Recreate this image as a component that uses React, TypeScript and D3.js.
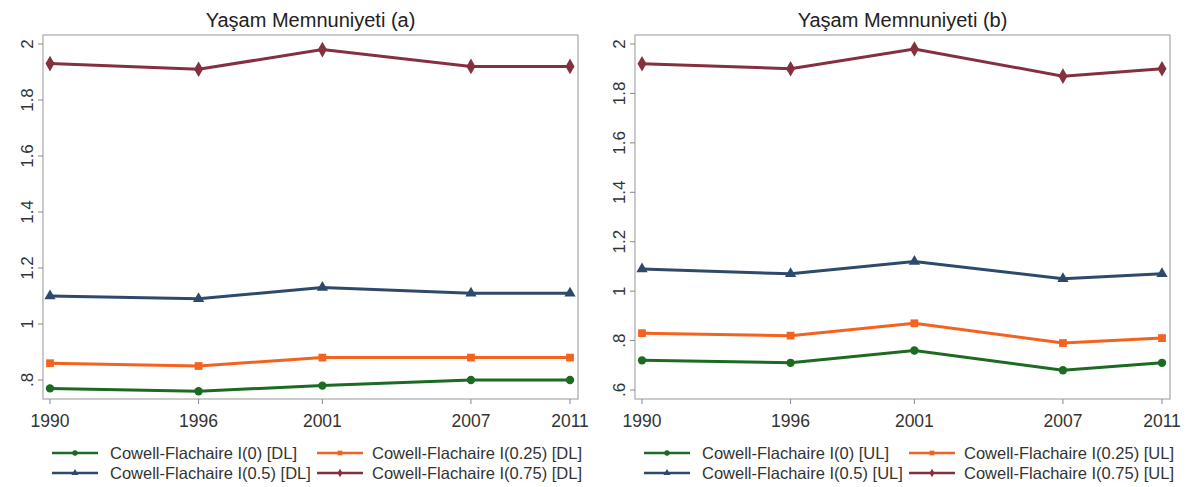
import React from "react";
import * as d3 from "d3";

// years on the x axis
const years = [1990, 1996, 2001, 2007, 2011];

// panel (a): DL series
const dlI0 = [0.77, 0.76, 0.78, 0.8, 0.8];
const dlI025 = [0.86, 0.85, 0.88, 0.88, 0.88];
const dlI05 = [1.1, 1.09, 1.13, 1.11, 1.11];
const dlI075 = [1.93, 1.91, 1.98, 1.92, 1.92];

// panel (b): UL series
const ulI0 = [0.72, 0.71, 0.76, 0.68, 0.71];
const ulI025 = [0.83, 0.82, 0.87, 0.79, 0.81];
const ulI05 = [1.09, 1.07, 1.12, 1.05, 1.07];
const ulI075 = [1.92, 1.9, 1.98, 1.87, 1.9];

const yTicksA = [0.8, 1, 1.2, 1.4, 1.6, 1.8, 2];
const yTicksB = [0.6, 0.8, 1, 1.2, 1.4, 1.6, 1.8, 2];

const seriesNames = [
  "Cowell-Flachaire I(0)",
  "Cowell-Flachaire I(0.25)",
  "Cowell-Flachaire I(0.5)",
  "Cowell-Flachaire I(0.75)",
];

const colors = ["#1d6b23", "#f4621f", "#2e4a6b", "#84303f"];
const symbols = [d3.symbolCircle, d3.symbolSquare, d3.symbolTriangle, d3.symbolDiamond];
const symbolSizes = [55, 60, 55, 70];

const FONT = "'Liberation Sans', Arial, sans-serif";

// Stata-like tick label: .8 instead of 0.8
const fmt = (v: number) => {
  const s = d3.format("~g")(v);
  return s.startsWith("0.") ? s.slice(1) : s;
};

interface PanelProps {
  offsetX: number;
  title: string;
  tag: string;
  data: number[][];
  ticks: number[];
  yAt2: number;
  yLow: number;
  yLowPx: number;
}

function Panel({ offsetX, title, tag, data, ticks, yLow, yLowPx }: PanelProps) {
  const frame = { left: 43, right: 578, top: 35, bottom: 399 };
  const x = d3.scaleLinear().domain([1990, 2011]).range([50, 570]);
  const y = d3.scaleLinear().domain([yLow, 2]).range([yLowPx, 44]);
  const line = d3
    .line<number>()
    .x((_, i) => x(years[i]))
    .y((d) => y(d));

  const legendPos = [
    { sx: 52, tx: 110, cy: 453 },
    { sx: 317, tx: 372, cy: 453 },
    { sx: 52, tx: 110, cy: 473 },
    { sx: 317, tx: 372, cy: 473 },
  ];

  return (
    <g transform={`translate(${offsetX},0)`}>
      <text
        x={(frame.left + frame.right) / 2}
        y={27}
        textAnchor="middle"
        fontSize={20}
        fill="#222"
        fontFamily={FONT}
      >
        {title}
      </text>
      <rect
        x={frame.left}
        y={frame.top}
        width={frame.right - frame.left}
        height={frame.bottom - frame.top}
        fill="#fff"
        stroke="#a8a8a8"
        strokeWidth={1.2}
      />
      {ticks.map((t) => (
        <g key={t}>
          <line x1={frame.left - 5} x2={frame.left} y1={y(t)} y2={y(t)} stroke="#888" />
          <text
            transform={`translate(${frame.left - 10},${y(t)}) rotate(-90)`}
            textAnchor="middle"
            fontSize={17}
            fill="#333"
            fontFamily={FONT}
          >
            {fmt(t)}
          </text>
        </g>
      ))}
      {years.map((yr) => (
        <g key={yr}>
          <line x1={x(yr)} x2={x(yr)} y1={frame.bottom} y2={frame.bottom + 5} stroke="#888" />
          <text
            x={x(yr)}
            y={427}
            textAnchor="middle"
            fontSize={17.5}
            fill="#333"
            fontFamily={FONT}
          >
            {yr}
          </text>
        </g>
      ))}
      {data.map((vals, si) => (
        <g key={si}>
          <path d={line(vals) || ""} fill="none" stroke={colors[si]} strokeWidth={3} />
          {vals.map((v, i) => (
            <path
              key={i}
              transform={`translate(${x(years[i])},${y(v)})`}
              d={d3.symbol(symbols[si], symbolSizes[si])() || ""}
              fill={colors[si]}
            />
          ))}
        </g>
      ))}
      {legendPos.map((p, si) => (
        <g key={si}>
          <line
            x1={p.sx}
            x2={p.sx + 46}
            y1={p.cy}
            y2={p.cy}
            stroke={colors[si]}
            strokeWidth={2.5}
          />
          <path
            transform={`translate(${p.sx + 23},${p.cy})`}
            d={d3.symbol(symbols[si], 22)() || ""}
            fill={colors[si]}
          />
          <text
            x={p.tx}
            y={p.cy + 6}
            fontSize={16.5}
            fill="#333"
            fontFamily={FONT}
          >
            {`${seriesNames[si]} [${tag}]`}
          </text>
        </g>
      ))}
    </g>
  );
}

export default function App() {
  return (
    <div style={{ position: "absolute", left: 0, top: 0 }}>
      <svg width={1191} height={487} style={{ display: "block", background: "#fff" }}>
        <Panel
          offsetX={0}
          title="Yaşam Memnuniyeti (a)"
          tag="DL"
          data={[dlI0, dlI025, dlI05, dlI075]}
          ticks={yTicksA}
          yAt2={44}
          yLow={0.8}
          yLowPx={380}
        />
        <Panel
          offsetX={592}
          title="Yaşam Memnuniyeti (b)"
          tag="UL"
          data={[ulI0, ulI025, ulI05, ulI075]}
          ticks={yTicksB}
          yAt2={44}
          yLow={0.6}
          yLowPx={390}
        />
      </svg>
    </div>
  );
}
